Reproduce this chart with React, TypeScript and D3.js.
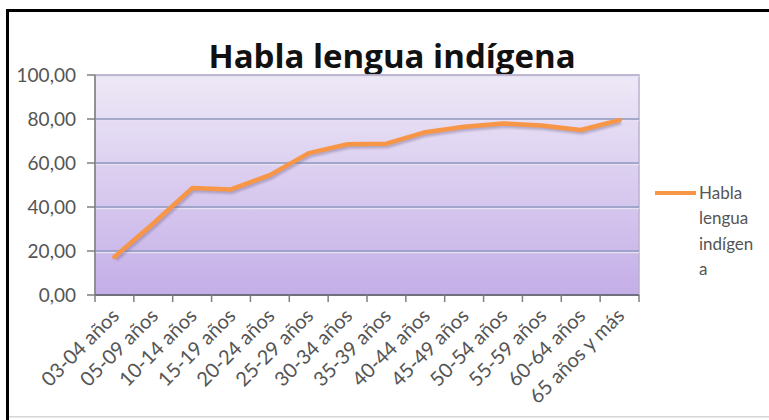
import React from "react";
import * as d3 from "d3";

const categories = [
  "03-04 años", "05-09 años", "10-14 años", "15-19 años", "20-24 años",
  "25-29 años", "30-34 años", "35-39 años", "40-44 años", "45-49 años",
  "50-54 años", "55-59 años", "60-64 años", "65 años y más",
];
const values = [17.3, 32.5, 48.6, 48.0, 54.5, 64.5, 68.5, 68.8, 74.0, 76.5, 78.0, 77.0, 75.0, 79.5];
const yTicks = [0, 20, 40, 60, 80, 100];
const title = "Habla lengua indígena";
const legendLines = ["Habla", "lengua", "indígen", "a"];

const W = 769, H = 420;
const plot = { left: 95, right: 639, top: 75, bottom: 295 };

export default function App() {
  const x = d3.scaleBand<string>().domain(categories).range([plot.left, plot.right]).padding(0);
  const y = d3.scaleLinear().domain([0, 100]).range([plot.bottom, plot.top]);
  const line = d3.line<number>()
    .x((_, i) => (x(categories[i]) as number) + x.bandwidth() / 2)
    .y((d) => y(d))
    .curve(d3.curveLinear);
  const path = line(values) || "";
  const fmt = (v: number) => v.toFixed(2).replace(".", ",");
  const font = "Lato, 'Open Sans', sans-serif";
  const bounds = categories.map((c) => x(c) as number).concat([plot.right]);

  return (
    <svg width={W} height={H} style={{ position: "absolute", left: 0, top: 0, background: "#fff" }}>
      <defs>
        <linearGradient id="bg" x1="0" y1="0" x2="0" y2="1">
          <stop offset="0%" stopColor="#EEE9F7" />
          <stop offset="100%" stopColor="#C4AEE7" />
        </linearGradient>
        <filter id="blur" x="-5%" y="-20%" width="110%" height="140%">
          <feGaussianBlur stdDeviation="1.2" />
        </filter>
      </defs>
      {/* frame */}
      <rect x={6} y={9} width={W} height={3} fill="#000" />
      <rect x={6} y={9} width={3} height={H} fill="#000" />
      <rect x={9} y={416} width={W} height={1.5} fill="#d6d6d6" />

      {/* title */}
      <text x={392} y={68} textAnchor="middle" fontFamily="'Open Sans', Lato, sans-serif" fontWeight={700} fontSize={33} fill="#111">
        {title}
      </text>

      {/* plot background */}
      <rect x={plot.left} y={plot.top} width={plot.right - plot.left} height={plot.bottom - plot.top}
        fill="url(#bg)" stroke="#B8B2CC" strokeWidth={1.5} />

      {/* gridlines */}
      {yTicks.filter((t) => t > 0).map((t) => (
        <g key={t}>
          <line x1={plot.left} x2={plot.right} y1={y(t) + 1.5} y2={y(t) + 1.5} stroke="#E6E0F2" strokeWidth={1.5} />
          <line x1={plot.left} x2={plot.right} y1={y(t)} y2={y(t)} stroke={t === 100 ? "#B8B2CC" : "#8E98BE"} strokeWidth={1.6} />
        </g>
      ))}

      {/* axes */}
      <line x1={plot.left} x2={plot.left} y1={plot.top} y2={plot.bottom} stroke="#7f7f7f" strokeWidth={1.5} />
      <line x1={plot.left} x2={plot.right} y1={plot.bottom} y2={plot.bottom} stroke="#6f6f7f" strokeWidth={2} />
      {yTicks.map((t) => (
        <g key={"yt" + t}>
          <line x1={plot.left - 8} x2={plot.left} y1={y(t)} y2={y(t)} stroke="#7f7f7f" strokeWidth={1.5} />
          <text x={76} y={y(t) + 6.5} textAnchor="end" fontFamily={font} fontSize={19} fill="#555">
            {fmt(t)}
          </text>
        </g>
      ))}
      {bounds.map((b, i) => (
        <line key={"xt" + i} x1={b} x2={b} y1={plot.bottom} y2={plot.bottom + 7} stroke="#7f7f7f" strokeWidth={1.5} />
      ))}
      {categories.map((c) => {
        const cx = (x(c) as number) + x.bandwidth() / 2 + 6;
        const cy = plot.bottom + 22;
        return (
          <text key={c} transform={`translate(${cx},${cy}) rotate(-45)`} textAnchor="end"
            fontFamily={font} fontSize={20} fill="#555">
            {c}
          </text>
        );
      })}

      {/* line with shadow */}
      <path d={path} fill="none" stroke="#7a6a90" strokeOpacity={0.45} strokeWidth={4} transform="translate(1.5,2.5)"
        filter="url(#blur)" strokeLinejoin="round" />
      <path d={path} fill="none" stroke="#F79646" strokeWidth={4.5} strokeLinejoin="round" strokeLinecap="round" />

      {/* legend */}
      <line x1={655} x2={696} y1={193} y2={193} stroke="#F79646" strokeWidth={4} />
      {legendLines.map((s, i) => (
        <text key={s} x={699} y={199 + i * 25.3} fontFamily={font} fontSize={17} fill="#555">
          {s}
        </text>
      ))}
    </svg>
  );
}
